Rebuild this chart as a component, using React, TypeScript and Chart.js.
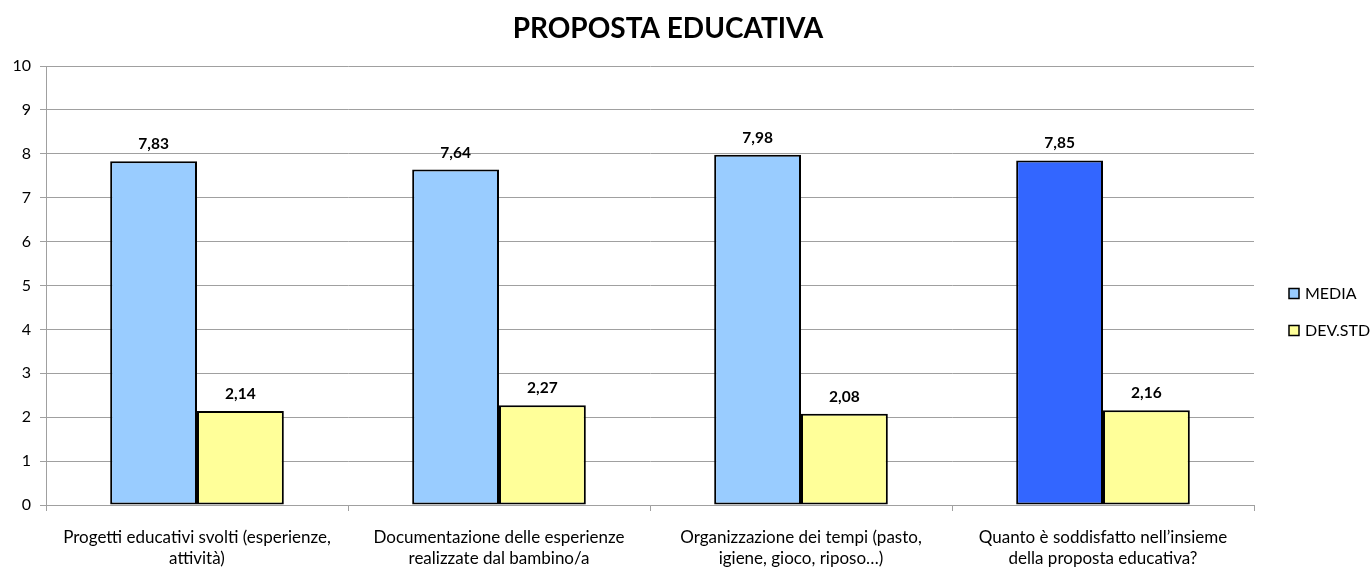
import React, { useEffect, useRef } from "react";
import { Chart, registerables } from "chart.js";

Chart.register(...registerables);

const categories: string[][] = [
  ["Progetti educativi svolti (esperienze,", "attività)"],
  ["Documentazione delle esperienze", "realizzate dal bambino/a"],
  ["Organizzazione dei tempi (pasto,", "igiene, gioco, riposo…)"],
  ["Quanto è soddisfatto nell’insieme", "della proposta educativa?"],
];
const mediaValues: number[] = [7.83, 7.64, 7.98, 7.85];
const devStdValues: number[] = [2.14, 2.27, 2.08, 2.16];
const seriesNames: string[] = ["MEDIA", "DEV.STD"];
const chartTitle = "PROPOSTA EDUCATIVA";
const yMin = 0;
const yMax = 10;
const yStep = 1;

const FONT = "Lato, 'Open Sans', sans-serif";
const mediaColor = "#99CCFF";
const mediaHighlight = "#3366FF";
const devColor = "#FFFF99";

const fmt = (v: number) => v.toFixed(2).replace(".", ",");

const valueLabels = {
  id: "valueLabels",
  afterDatasetsDraw(chart: any) {
    const ctx = chart.ctx;
    ctx.save();
    ctx.font = `bold 15.5px ${FONT}`;
    ctx.fillStyle = "#000";
    ctx.textAlign = "center";
    ctx.textBaseline = "middle";
    chart.data.datasets.forEach((ds: any, di: number) => {
      const meta = chart.getDatasetMeta(di);
      meta.data.forEach((bar: any, i: number) => {
        ctx.fillText(fmt(ds.data[i]), bar.x, bar.y - 17);
      });
    });
    ctx.restore();
  },
};

const titleAndLegend = {
  id: "titleAndLegend",
  afterDraw(chart: any) {
    const ctx = chart.ctx;
    const area = chart.chartArea;
    ctx.save();
    // title
    ctx.font = `bold 28px ${FONT}`;
    ctx.fillStyle = "#000";
    ctx.textAlign = "center";
    ctx.textBaseline = "middle";
    ctx.fillText(chartTitle, 668, 29);
    // legend
    const x = area.right + 35;
    const y0 = (area.top + area.bottom) / 2 + 8;
    ctx.font = `16px ${FONT}`;
    ctx.textAlign = "left";
    chart.data.datasets.forEach((ds: any, di: number) => {
      const y = y0 + di * 37;
      const fill = Array.isArray(ds.backgroundColor) ? ds.backgroundColor[0] : ds.backgroundColor;
      ctx.fillStyle = fill;
      ctx.fillRect(x, y - 5, 10, 10);
      ctx.lineWidth = 1.5;
      ctx.strokeStyle = "#000";
      ctx.strokeRect(x, y - 5, 10, 10);
      ctx.fillStyle = "#000";
      ctx.fillText(ds.label, x + 16, y);
    });
    ctx.restore();
  },
};

export default function App() {
  const ref = useRef<HTMLCanvasElement | null>(null);

  useEffect(() => {
    if (!ref.current) return;
    const chart = new Chart(ref.current, {
      type: "bar",
      data: {
        labels: categories,
        datasets: [
          {
            label: seriesNames[0],
            data: mediaValues,
            backgroundColor: mediaValues.map((_, i) => (i === mediaValues.length - 1 ? mediaHighlight : mediaColor)),
            borderColor: "#000",
            borderWidth: 2,
            borderSkipped: false,
            categoryPercentage: 0.575,
            barPercentage: 1,
          },
          {
            label: seriesNames[1],
            data: devStdValues,
            backgroundColor: devColor,
            borderColor: "#000",
            borderWidth: 2,
            borderSkipped: false,
            categoryPercentage: 0.575,
            barPercentage: 1,
          },
        ],
      },
      options: {
        responsive: true,
        maintainAspectRatio: false,
        animation: false,
        layout: { padding: { left: 0, right: 118, top: 66, bottom: 0 } },
        plugins: {
          legend: { display: false },
          tooltip: { enabled: false },
          title: { display: false },
        },
        scales: {
          x: {
            afterFit: (scale: any) => {
              scale.height = 62;
            },
            grid: {
              drawOnChartArea: false,
              drawTicks: true,
              tickLength: 6,
              color: "#a0a0a0",
              offset: true,
            },
            border: { display: true, color: "#a0a0a0", width: 1 },
            ticks: {
              color: "#000",
              font: { family: FONT, size: 17, lineHeight: 1.25 },
              padding: 16,
              maxRotation: 0,
              autoSkip: false,
            },
          },
          y: {
            min: yMin,
            max: yMax,
            afterFit: (scale: any) => {
              scale.width = 46;
            },
            grid: { color: "#a0a0a0", tickLength: 6, drawTicks: true },
            border: { display: true, color: "#a0a0a0", width: 1 },
            ticks: {
              stepSize: yStep,
              color: "#000",
              font: { family: FONT, size: 16 },
              padding: 9,
            },
          },
        },
      },
      plugins: [valueLabels, titleAndLegend],
    });
    return () => chart.destroy();
  }, []);

  return (
    <div style={{ position: "fixed", left: 0, top: 0, width: 1372, height: 567, background: "#fff" }}>
      <canvas ref={ref} />
    </div>
  );
}
